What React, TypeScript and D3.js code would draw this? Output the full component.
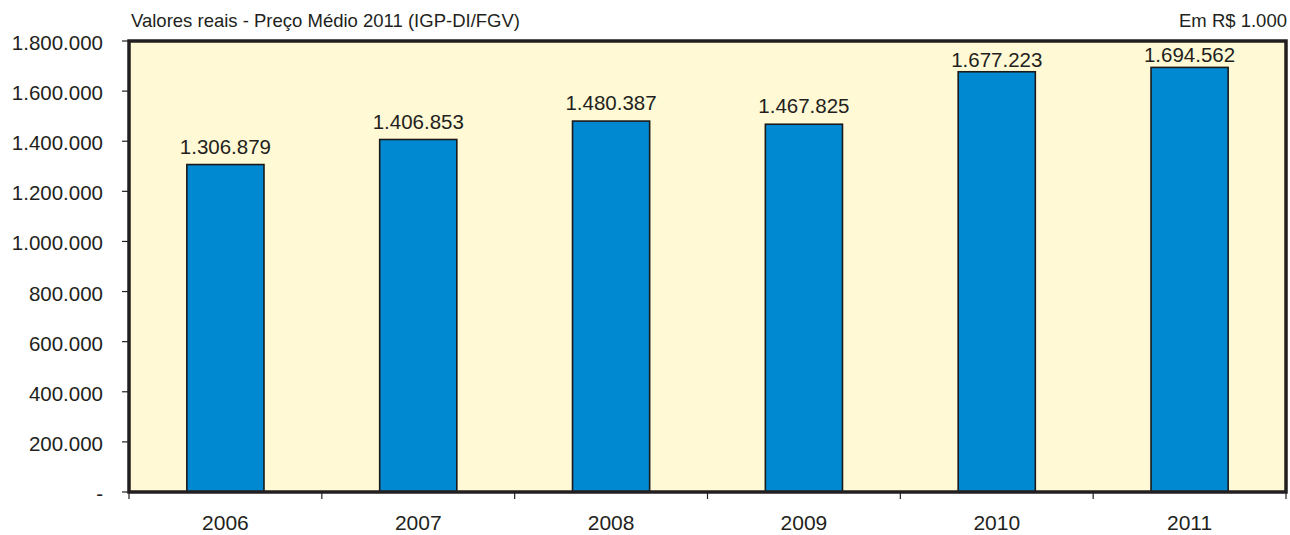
import React from "react";
import * as d3 from "d3";

const categories = ["2006", "2007", "2008", "2009", "2010", "2011"];
const values = [1306879, 1406853, 1480387, 1467825, 1677223, 1694562];
const yTicks = [0, 200000, 400000, 600000, 800000, 1000000, 1200000, 1400000, 1600000, 1800000];
const titleLeft = "Valores reais - Preço Médio 2011 (IGP-DI/FGV)";
const titleRight = "Em R$ 1.000";

const W = 1290, H = 535;
const m = { left: 129, right: 1286, top: 41, bottom: 492 };

const fmt = (v: number) => {
  if (v === 0) return "-";
  return d3.format(",")(v).replace(/,/g, ".");
};

export default function App() {
  const x = d3.scaleBand().domain(categories).range([m.left, m.right]).paddingInner(0.6).paddingOuter(0.3);
  const xOuter = d3.scaleBand().domain(categories).range([m.left, m.right]);
  const y = d3.scaleLinear().domain([0, 1800000]).range([m.bottom, m.top]);
  const font = "Liberation Sans, Arial, sans-serif";
  return (
    <svg width={W} height={H} style={{ position: "absolute", left: 0, top: 0 }} fontFamily={font}>
      <rect x={0} y={0} width={W} height={H} fill="#fff" />
      <rect x={m.left} y={m.top} width={m.right - m.left} height={m.bottom - m.top} fill="#FFF9D5" />
      {categories.map((c, i) => {
        const top = y(values[i]);
        const gap = top < 85 ? 5 : 11;
        return (
          <g key={c}>
            <rect x={x(c)} y={top} width={x.bandwidth()} height={m.bottom - top}
              fill="#0089D0" stroke="#1a1a1a" strokeWidth={1.6} />
            <text x={(x(c) as number) + x.bandwidth() / 2} y={top - gap} textAnchor="middle" fontSize={20.5} fill="#231f20">
              {fmt(values[i])}
            </text>
            <text x={(xOuter(c) as number) + xOuter.bandwidth() / 2} y={530} textAnchor="middle" fontSize={21} fill="#231f20">
              {c}
            </text>
          </g>
        );
      })}
      <rect x={m.left} y={m.top} width={m.right - m.left} height={m.bottom - m.top} fill="none" stroke="#231f20" strokeWidth={3.5} />
      {yTicks.map((t) => (
        <g key={t}>
          <line x1={m.left - 7} x2={m.left} y1={y(t)} y2={y(t)} stroke="#231f20" strokeWidth={1.2} />
          <text x={103} y={y(t) + 9} textAnchor="end" fontSize={20.5} fill="#231f20">{fmt(t)}</text>
        </g>
      ))}
      {[...categories.map((c) => xOuter(c) as number), m.right].map((px, i) => (
        <line key={i} x1={px} x2={px} y1={m.bottom} y2={m.bottom + 7} stroke="#231f20" strokeWidth={1.2} />
      ))}
      <text x={131} y={27} fontSize={18.5} fill="#231f20">{titleLeft}</text>
      <text x={1287} y={27} fontSize={18.5} textAnchor="end" fill="#231f20">{titleRight}</text>
    </svg>
  );
}
